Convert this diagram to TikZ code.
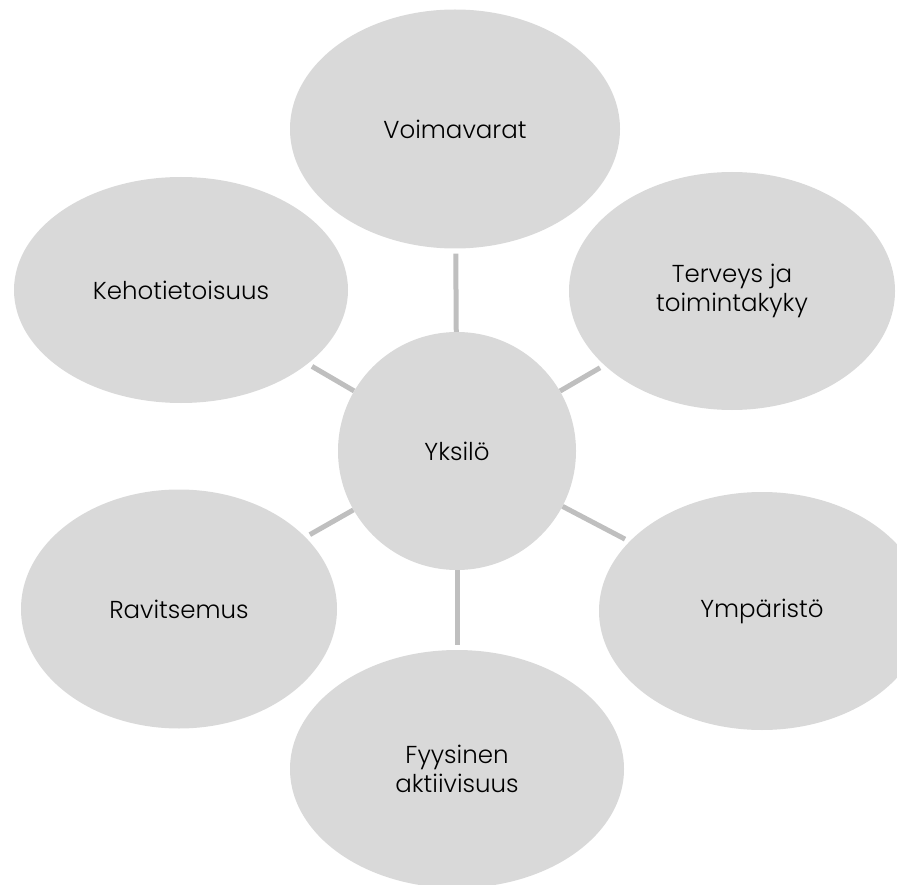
\documentclass[tikz,border=0pt]{standalone}
\usepackage{fontspec}
\setmainfont{Poppins Light}
\usetikzlibrary{shapes.geometric}
\definecolor{bubblegray}{HTML}{D9D9D9}
\definecolor{spokegray}{HTML}{BFBFBF}

\begin{document}
\begin{tikzpicture}[x=1pt, y=-1pt,
  bubble/.style={ellipse, fill=bubblegray, inner sep=0pt, align=center,
    font=\fontsize{24.5}{29}\selectfont, text=black},
  spoke/.style={draw=spokegray, line width=5pt, shorten >=5pt}]

\useasboundingbox (0,0) rectangle (897,885);
\clip (0,0) rectangle (897,885);

\node[bubble, circle, minimum size=238pt] (hub) at (457,451) {Yksilö};

\node[bubble, minimum width=330pt, minimum height=239pt] (voima) at (455,129) {Voimavarat};
\node[bubble, minimum width=326pt, minimum height=238pt] (terveys) at (732,291) {Terveys ja\\toimintakyky};
\node[bubble, minimum width=326pt, minimum height=238pt] (ymparisto) at (762,611) {Ympäristö};
\node[bubble, minimum width=334pt, minimum height=238pt] (fyysinen) at (457,769) {Fyysinen\\aktiivisuus};
\node[bubble, minimum width=316pt, minimum height=239pt] (ravitsemus) at (179,609) {Ravitsemus};
\node[bubble, minimum width=334pt, minimum height=226pt] (keho) at (181,290) {Kehotietoisuus};

\draw[spoke] (hub) -- (voima);
\draw[spoke] (hub) -- (terveys);
\draw[spoke] (hub) -- (ymparisto);
\draw[spoke] (hub) -- (fyysinen);
\draw[spoke] (hub) -- (ravitsemus);
\draw[spoke] (hub) -- (keho);

\end{tikzpicture}
\end{document}
